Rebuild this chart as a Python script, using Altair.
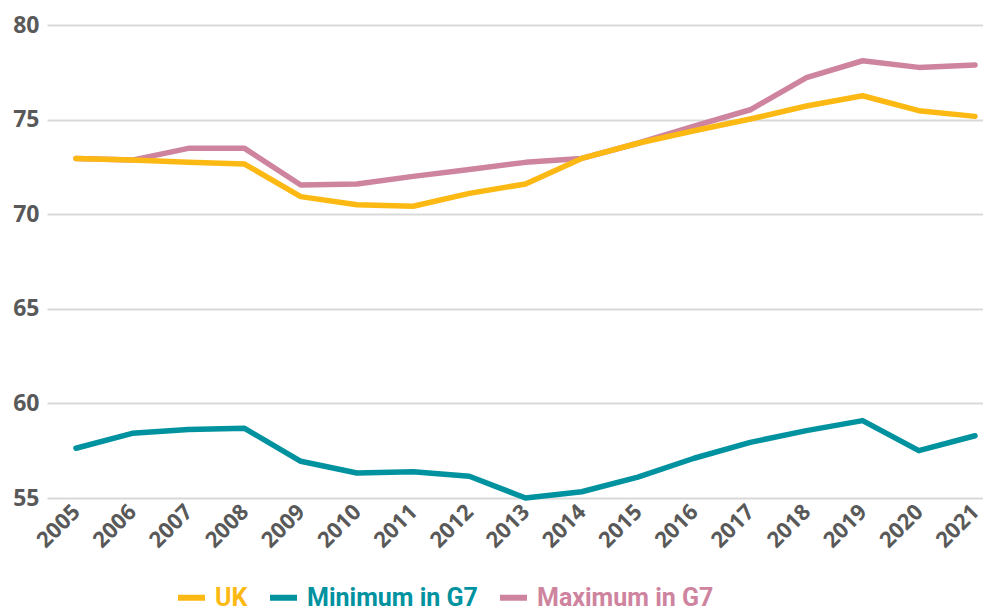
import altair as alt
import pandas as pd

years = list(range(2005, 2022))
uk = [72.95, 72.86, 72.74, 72.65, 70.93, 70.5, 70.42, 71.1, 71.6, 72.95, 73.75, 74.41, 75.03, 75.72, 76.26, 75.47, 75.17]
min_g7 = [57.63, 58.42, 58.62, 58.68, 56.94, 56.32, 56.39, 56.15, 55.0, 55.33, 56.1, 57.1, 57.94, 58.56, 59.09, 57.5, 58.29]
max_g7 = [72.95, 72.86, 73.48, 73.48, 71.54, 71.6, 72.0, 72.36, 72.74, 72.95, 73.75, 74.65, 75.52, 77.22, 78.11, 77.76, 77.89]

series_names = ["UK", "Minimum in G7", "Maximum in G7"]
series_colors = ["#FDB913", "#00929F", "#CE849E"]
y_ticks = [55, 60, 65, 70, 75, 80]

rows = []
for name, vals in zip(series_names, [uk, min_g7, max_g7]):
    for yr, v in zip(years, vals):
        rows.append({"year": yr, "value": v, "series": name})
df = pd.DataFrame(rows)

label_expr = ("datum.value == 'UK' ? '%s' : datum.value == 'Minimum in G7' ? '%s' : '%s'"
              % tuple(series_colors))

color = alt.Color(
    "series:N",
    scale=alt.Scale(domain=series_names, range=series_colors),
    sort=series_names,
    legend=alt.Legend(
        title=None,
        orient="none",
        legendX=128,
        legendY=556,
        direction="horizontal",
        symbolType="stroke",
        symbolStrokeWidth=6,
        symbolSize=729,
        labelFont="Roboto",
        labelFontSize=25,
        labelFontWeight="bold",
        labelColor=alt.ExprRef(label_expr),
        labelLimit=0,
        columnPadding=10,
        labelOffset=7,
    ),
)

x = alt.X(
    "year:Q",
    title=None,
    scale=alt.Scale(domain=[2004.484, 2021.142], nice=False, zero=False),
    axis=alt.Axis(
        values=years,
        format="d",
        grid=False,
        domain=False,
        ticks=False,
        labelAngle=-45,
        labelAlign="right",
        labelBaseline="middle",
        labelPadding=10,
        labelFont="Open Sans",
        labelFontSize=22,
        labelFontWeight="bold",
        labelColor="#595959",
        labelOverlap=False,
    ),
)
y = alt.Y(
    "value:Q",
    title=None,
    scale=alt.Scale(domain=[55, 80], nice=False, zero=False),
    axis=alt.Axis(
        values=y_ticks,
        grid=True,
        gridColor="#d9d9d9",
        gridWidth=2,
        domain=False,
        ticks=False,
        labelPadding=8,
        labelFont="Open Sans",
        labelFontSize=23,
        labelFontWeight="bold",
        labelColor="#595959",
    ),
)

base = alt.Chart(df).mark_line(strokeWidth=5.5, strokeCap="round", strokeJoin="round").encode(
    x=x, y=y, color=color
)

layers = [base.transform_filter(alt.datum.series == s) for s in ["Maximum in G7", "Minimum in G7", "UK"]]

chart = alt.layer(*layers).properties(
    width=936,
    height=473,
    padding={"left": 4, "top": 6, "right": 0, "bottom": 0},
).configure_view(stroke=None)

chart.save("out.html", embed_options={"renderer": "svg", "actions": False})
